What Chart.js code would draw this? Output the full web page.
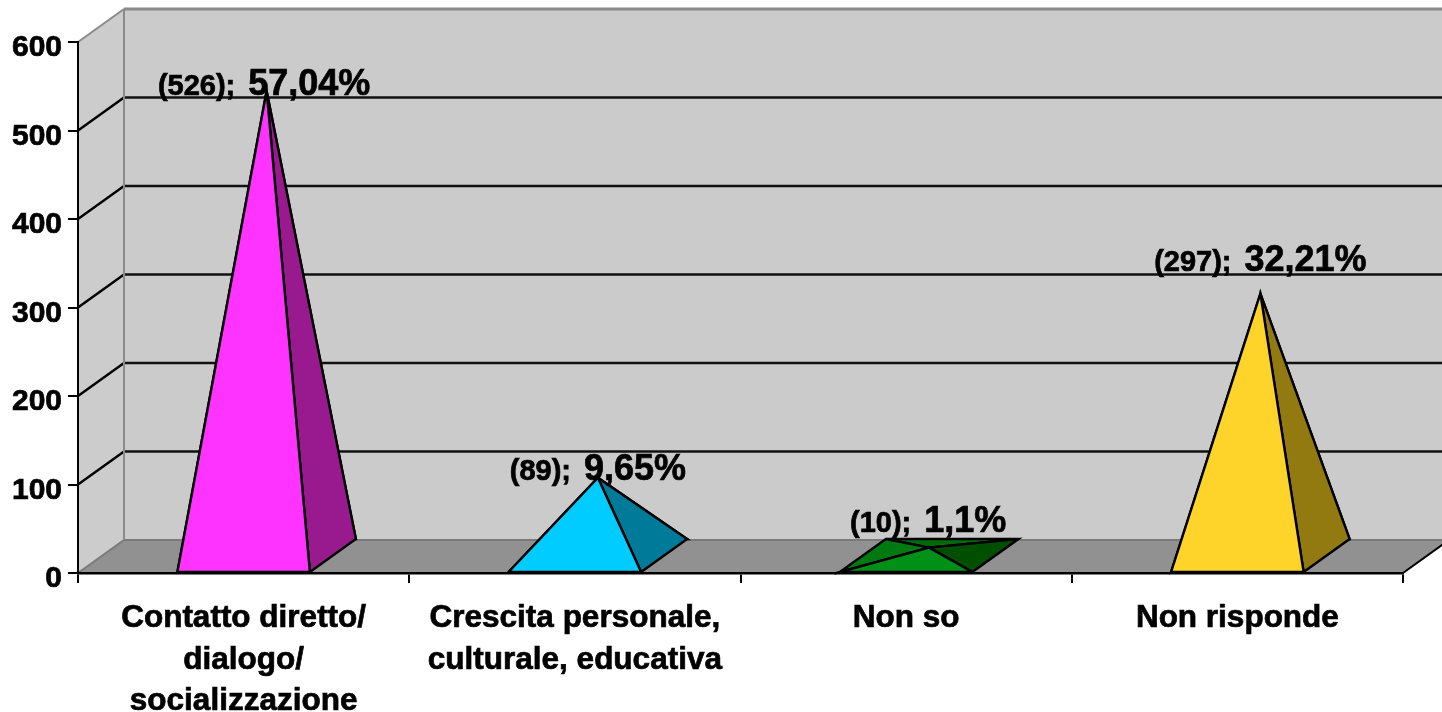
<!DOCTYPE html>
<html>
<head>
<meta charset="utf-8">
<title>Pyramid chart</title>
<script src="https://cdn.jsdelivr.net/npm/chart.js@4"></script>
<style>
    html, body { margin: 0; padding: 0; background: #ffffff; overflow: hidden; }
    canvas { display: block; }
</style>
</head>
<body>
<canvas id="myChart" width="1442" height="712"></canvas>
<script>
var categories = [
    ['Contatto diretto/', 'dialogo/', 'socializzazione'],
    ['Crescita personale,', 'culturale, educativa'],
    'Non so',
    'Non risponde'
];
var counts = [526, 89, 10, 297];
var percentLabels = ['57,04%', '9,65%', '1,1%', '32,21%'];

// colori delle facce
var frontColors = ['#ff33ff', '#00ccff', '#009018', '#ffd42a'];
var sideColors = ['#99198f', '#007a99', '#004f00', '#927a10'];
var leftColors = ['#99198f', '#007a99', '#007a10', '#927a10'];
var backColors = ['#99198f', '#007a99', '#006a0a', '#927a10'];

// profondita' del grafico 3D (px)
var depthX = 46;
var depthY = -33;
// spostamento delle etichette rispetto alla punta
var labelNudgeX = [-2.5, 0, -1, 0];
var labelNudgeY = [4, 2, -16, -23];

function drawPoly(ctx, pts, fill, stroke, width) {
    ctx.beginPath();
    ctx.moveTo(pts[0][0], pts[0][1]);
    for (var i = 1; i < pts.length; i++) {
        ctx.lineTo(pts[i][0], pts[i][1]);
    }
    ctx.closePath();
    if (fill) {
        ctx.fillStyle = fill;
        ctx.fill();
    }
    if (stroke) {
        ctx.strokeStyle = stroke;
        ctx.lineWidth = width;
        ctx.stroke();
    }
}

function drawLine(ctx, x1, y1, x2, y2, color, width) {
    ctx.beginPath();
    ctx.moveTo(x1, y1);
    ctx.lineTo(x2, y2);
    ctx.strokeStyle = color;
    ctx.lineWidth = width;
    ctx.stroke();
}

// pareti e pavimento
var wallsPlugin = {
    id: 'walls',
    beforeDraw: function (chart) {
        var ctx = chart.ctx;
        var a = chart.chartArea;
        var yScale = chart.scales.y;
        ctx.save();
        // parete di fondo e parete sinistra
        drawPoly(ctx, [[a.left + depthX, a.top + depthY], [a.right + depthX, a.top + depthY], [a.right + depthX, a.bottom + depthY], [a.left + depthX, a.bottom + depthY]], '#cbcbcb');
        drawPoly(ctx, [[a.left, a.top], [a.left + depthX, a.top + depthY], [a.left + depthX, a.bottom + depthY], [a.left, a.bottom]], '#cccccc');
        // griglia
        yScale.ticks.forEach(function (t) {
            if (t.value === 0 || t.value === yScale.max) return;
            var y = yScale.getPixelForValue(t.value);
            drawLine(ctx, a.left, y, a.left + depthX, y + depthY, '#000000', 2.4);
            drawLine(ctx, a.left + depthX, y + depthY, a.right + depthX, y + depthY, '#111111', 2.4);
        });
        // pavimento
        drawPoly(ctx, [[a.left, a.bottom], [a.right, a.bottom], [a.right + depthX, a.bottom + depthY], [a.left + depthX, a.bottom + depthY]], '#919191');
        // bordi grigi
        drawLine(ctx, a.left + depthX, a.bottom + depthY, a.right + depthX, a.bottom + depthY, '#7a7a7a', 2);
        drawLine(ctx, a.left + depthX, a.top + depthY, a.right + depthX, a.top + depthY, '#8a8a8a', 3);
        drawLine(ctx, a.left + depthX, a.top + depthY, a.left + depthX, a.bottom + depthY, '#8a8a8a', 2);
        drawLine(ctx, a.left, a.top, a.left + depthX, a.top + depthY, '#8a8a8a', 2);
        drawLine(ctx, a.left, a.bottom, a.left + depthX, a.bottom + depthY, '#7a7a7a', 2);
        drawLine(ctx, a.right, a.bottom, a.right + depthX, a.bottom + depthY, '#000000', 2);
        ctx.restore();
    }
};

// piramidi ed etichette, dalle barre (nascoste) di Chart.js
var pyramidPlugin = {
    id: 'pyramids',
    afterDatasetsDraw: function (chart) {
        var ctx = chart.ctx;
        var bars = chart.getDatasetMeta(0).data;
        ctx.save();
        ctx.lineJoin = 'miter';
        bars.forEach(function (bar, i) {
            var half = bar.width / 2;
            var fl = [bar.x - half, bar.base];
            var fr = [bar.x + half, bar.base];
            var bl = [fl[0] + depthX, bar.base + depthY];
            var br = [fr[0] + depthX, bar.base + depthY];
            var apex = [bar.x + depthX / 2, bar.y + depthY / 2];
            drawPoly(ctx, [bl, br, apex], backColors[i], '#000000', 2.4);
            drawPoly(ctx, [fl, bl, apex], leftColors[i], '#000000', 2.4);
            drawPoly(ctx, [fr, br, apex], sideColors[i], '#000000', 2.4);
            drawPoly(ctx, [fl, fr, apex], frontColors[i], '#000000', 2.4);

            // etichetta: "(n); xx,xx%"
            var first = '(' + counts[i] + ');';
            var second = percentLabels[i];
            var gap = 13;
            var font1 = 'bold 29px "Liberation Sans", Arial, sans-serif';
            var font2 = 'bold 36px "Liberation Sans", Arial, sans-serif';
            ctx.font = font1;
            var w1 = ctx.measureText(first).width;
            ctx.font = font2;
            var w2 = ctx.measureText(second).width;
            var startX = apex[0] - (w1 + gap + w2) / 2 + labelNudgeX[i];
            var baseY = apex[1] + labelNudgeY[i];
            ctx.fillStyle = '#000000';
            ctx.strokeStyle = '#000000';
            ctx.lineWidth = 0.7;
            ctx.textAlign = 'left';
            ctx.textBaseline = 'alphabetic';
            ctx.font = font1;
            ctx.fillText(first, startX, baseY);
            ctx.strokeText(first, startX, baseY);
            ctx.font = font2;
            ctx.fillText(second, startX + w1 + gap, baseY);
            ctx.strokeText(second, startX + w1 + gap, baseY);
        });
        ctx.restore();
    }
};

var ctx = document.getElementById('myChart').getContext('2d');
var myChart = new Chart(ctx, {
    type: 'bar',
    data: {
        labels: categories,
        datasets: [{
            data: counts,
            backgroundColor: 'rgba(0,0,0,0)',
            borderWidth: 0,
            categoryPercentage: 1,
            barPercentage: 0.4
        }]
    },
    options: {
        responsive: false,
        animation: false,
        layout: {
            padding: { top: 42, right: 39, left: 0, bottom: 0 }
        },
        scales: {
            x: {
                afterFit: function (scale) { scale.height = 139; },
                border: { color: '#000000', width: 2.4 },
                grid: {
                    drawOnChartArea: false,
                    color: '#000000',
                    lineWidth: 2,
                    tickLength: 10
                },
                ticks: {
                    color: '#000000',
                    textStrokeColor: '#000000',
                    textStrokeWidth: 0.7,
                    autoSkip: false,
                    maxRotation: 0,
                    padding: 14,
                    font: { family: '"Liberation Sans", Arial, sans-serif', size: 31.5, weight: 'bold', lineHeight: 1.33 }
                }
            },
            y: {
                min: 0,
                max: 600,
                afterFit: function (scale) { scale.width = 78; },
                border: { color: '#000000', width: 2 },
                grid: {
                    drawOnChartArea: false,
                    color: '#000000',
                    lineWidth: 2,
                    tickLength: 10
                },
                ticks: {
                    stepSize: 100,
                    color: '#000000',
                    textStrokeColor: '#000000',
                    textStrokeWidth: 0.7,
                    padding: 6,
                    labelOffset: 6,
                    font: { family: '"Liberation Sans", Arial, sans-serif', size: 30, weight: 'bold' }
                }
            }
        },
        plugins: {
            legend: { display: false },
            tooltip: { enabled: false }
        }
    },
    plugins: [wallsPlugin, pyramidPlugin]
});
</script>
</body>
</html>
